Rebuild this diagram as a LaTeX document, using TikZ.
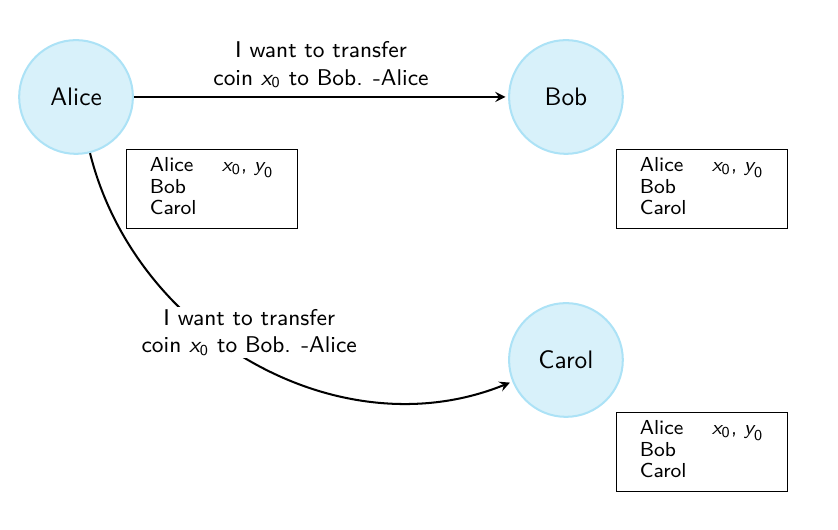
\documentclass[tikz,border=0pt]{standalone}
\renewcommand{\familydefault}{\sfdefault}
\usetikzlibrary{positioning,arrows}
\definecolor{userfill}{RGB}{216,241,250}
\definecolor{userdraw}{RGB}{172,226,246}
\newcommand{\coin}[2]{\ensuremath{\textsl{#1}_{\mathsf{#2}}}}
\begin{document}
\begin{tikzpicture}[
    user/.style={circle, draw=userdraw, fill=userfill, thick, minimum size=1.58cm, font=\normalsize},
    ledger/.style={draw, thin, inner xsep=0.33cm, inner ysep=0.11cm, font=\footnotesize},
    msg/.style={align=center, font=\small},
    arr/.style={-stealth, thick, shorten >=1pt}
]
    \useasboundingbox (0,0) rectangle (11.64,-7.35);

    % Users
    \node[user] (alice) at (1.056,-1.347) {Alice};
    \node[user] (bob) at (7.861,-1.347) {Bob};
    \node[user] (carol) at (7.861,-5.0) {Carol};

    % Local ledgers
    \renewcommand{\arraystretch}{0.88}
    \node[ledger, below right=0.15cm and 0.12cm of alice.south east] (aliceledger) {\begin{tabular}{@{}p{1cm}@{}l@{}}Alice & \coin{x}{0}, \coin{y}{0}\\ Bob & \\ Carol & \end{tabular}};
    \node[ledger, below right=0.15cm and 0.12cm of bob.south east] (bobledger) {\begin{tabular}{@{}p{1cm}@{}l@{}}Alice & \coin{x}{0}, \coin{y}{0}\\ Bob & \\ Carol & \end{tabular}};
    \node[ledger, below right=0.15cm and 0.12cm of carol.south east] (carolledger) {\begin{tabular}{@{}p{1cm}@{}l@{}}Alice & \coin{x}{0}, \coin{y}{0}\\ Bob & \\ Carol & \end{tabular}};

    % Broadcast of the transfer
    \draw[arr] (alice) -- node[msg, midway, above] {I want to transfer\\coin \coin{x}{0} to Bob. -Alice} (bob);
    \draw[arr] (alice) to[out=-76, in=202] node[msg, pos=0.42, xshift=0.45cm, yshift=0.09cm, fill=white, inner sep=1pt] {I want to transfer\\coin \coin{x}{0} to Bob. -Alice} (carol);
\end{tikzpicture}
\end{document}
